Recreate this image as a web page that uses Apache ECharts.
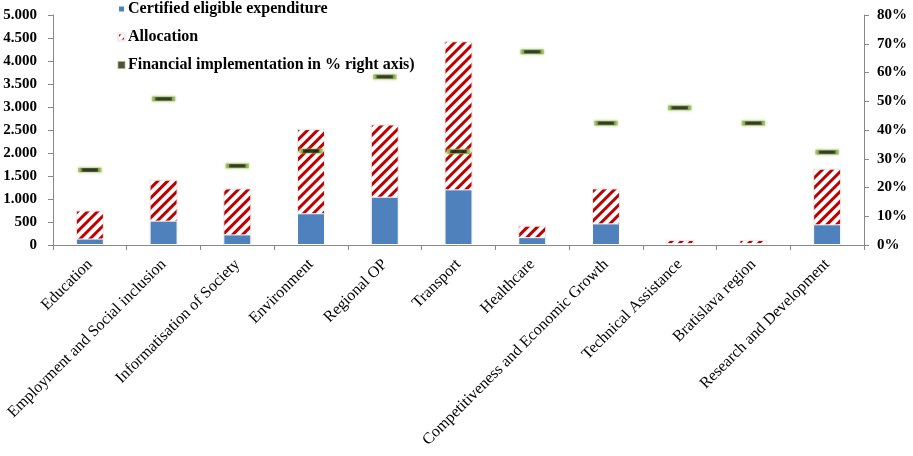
<!DOCTYPE html>
<html><head><meta charset="utf-8">
<script src="https://cdn.jsdelivr.net/npm/echarts@6/dist/echarts.min.js"></script>
<style>html,body{margin:0;padding:0;background:#fff}#c{width:913px;height:456px}</style>
</head><body><div id="c"></div>
<script>
const categories = ["Education","Employment and Social inclusion","Informatisation of Society","Environment","Regional OP","Transport","Healthcare","Competitiveness and Economic Growth","Technical Assistance","Bratislava region","Research and Development"];
const certified = [140, 530, 230, 690, 1050, 1210, 170, 470, 40, 40, 450];
const allocation = [750, 1420, 1230, 2520, 2620, 4430, 420, 1230, 110, 110, 1660];
const implementationPct = [26.1, 50.8, 27.5, 32.7, 58.5, 32.5, 67.2, 42.4, 47.7, 42.4, 32.3];
const leftTicks = [0, 500, 1000, 1500, 2000, 2500, 3000, 3500, 4000, 4500, 5000];
const rightTicks = [0, 10, 20, 30, 40, 50, 60, 70, 80];

const serif = "Liberation Serif";
const chart = echarts.init(document.getElementById('c'), null, {renderer:'canvas'});
const fmtThousands = v => String(v).replace(/\B(?=(\d{3})+(?!\d))/g, '.');
chart.setOption({
  animation:false,
  legend:{
    orient:'vertical', left:112, top:-4, itemGap:12, itemWidth:7, itemHeight:7,
    textStyle:{fontFamily:serif, fontWeight:'bold', fontSize:16, color:'#000', padding:[0,0,0,-2]},
    data:[
      {name:'Certified eligible expenditure', icon:'rect'},
      {name:'Allocation', icon:'rect'},
      {name:'Financial implementation in % right axis)', icon:'rect', itemStyle:{color:'#222', borderColor:'#9bbb59', borderWidth:1}}
    ]
  },
  grid:{left:53, right:49, top:15, bottom:211},
  xAxis:{
    type:'category', data:categories,
    axisLine:{lineStyle:{color:'#888'}},
    axisTick:{show:true, alignWithLabel:false, length:5, lineStyle:{color:'#888'}},
    axisLabel:{rotate:45, interval:0, margin:17, fontFamily:serif, fontSize:16, color:'#000'}
  },
  yAxis:[
    {type:'value', min:leftTicks[0], max:leftTicks[leftTicks.length-1], interval:leftTicks[1]-leftTicks[0],
     splitLine:{show:false},
     axisLine:{show:true, lineStyle:{color:'#888'}},
     axisTick:{show:true, length:5, lineStyle:{color:'#888'}},
     axisLabel:{margin:16, fontFamily:serif, fontWeight:'bold', fontSize:15, color:'#000', formatter:fmtThousands}},
    {type:'value', min:rightTicks[0], max:rightTicks[rightTicks.length-1], interval:rightTicks[1]-rightTicks[0],
     position:'right', splitLine:{show:false},
     axisLine:{show:true, lineStyle:{color:'#888'}},
     axisTick:{show:true, length:5, lineStyle:{color:'#888'}},
     axisLabel:{margin:13, fontFamily:serif, fontWeight:'bold', fontSize:15, color:'#000', formatter:'{value}%'}}
  ],
  series:[
    {name:'Allocation', type:'bar', data:allocation, barWidth:28, barGap:'-100%', z:1,
     itemStyle:{color:'#ffffff', borderColor:'#eeeeee', borderWidth:1,
       decal:{symbol:'rect', dashArrayX:[1,0], dashArrayY:[2.6,3.2], rotation:-Math.PI/4, color:'#c00000', symbolSize:1}}},
    {name:'Certified eligible expenditure', type:'bar', data:certified, barWidth:28, z:2,
     itemStyle:{color:'#4f81bd', borderColor:'#ffffff', borderWidth:1}},
    {name:'Financial implementation in % right axis)', type:'scatter', yAxisIndex:1, data:implementationPct, z:5,
     symbol:'rect', symbolSize:[20,4],
     itemStyle:{color:'#000', borderColor:'#9bbb59', borderWidth:1.5, shadowColor:'rgba(155,187,89,0.8)', shadowBlur:3}}
  ]
});
</script></body></html>
